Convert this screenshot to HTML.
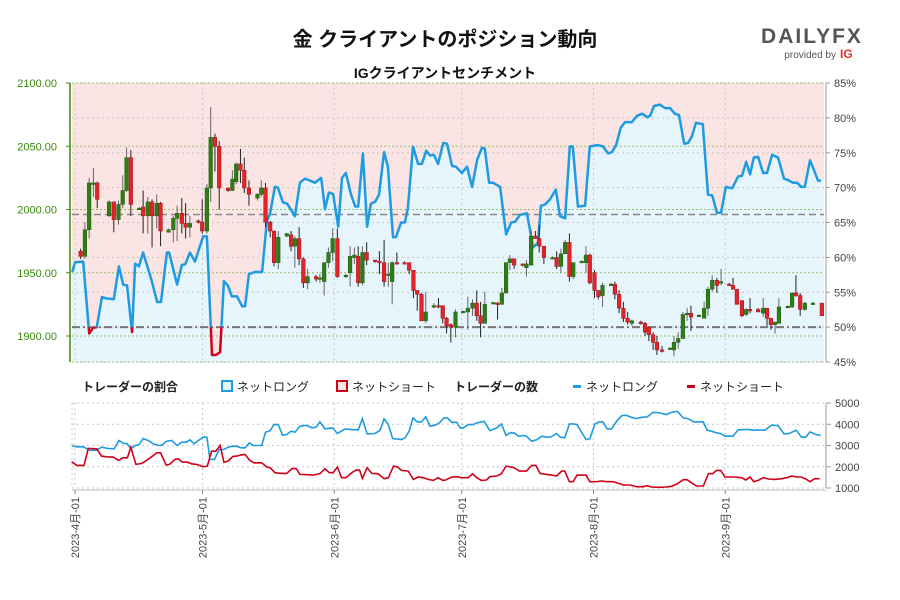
<!DOCTYPE html>
<html><head><meta charset="utf-8"><style>
body{margin:0;background:#fff;font-family:"Liberation Sans","Noto Sans CJK JP",sans-serif}
#wrap{position:relative;width:900px;height:600px;overflow:hidden}
</style></head><body><div id="wrap">
<svg id="svg" width="900" height="600" xmlns="http://www.w3.org/2000/svg" style="position:absolute;left:0;top:0" font-family="Liberation Sans, Noto Sans CJK JP, sans-serif">
<text x="445" y="46" text-anchor="middle" font-size="20" font-weight="bold" fill="#111">金 クライアントのポジション動向</text>
<text x="445" y="78" text-anchor="middle" font-size="14" font-weight="bold" fill="#111">IGクライアントセンチメント</text>
<g>
<text x="812" y="43" text-anchor="middle" font-size="21" font-weight="bold" letter-spacing="2" fill="#555">DAILYFX</text>
<text x="836" y="58" text-anchor="end" font-size="10" fill="#555">provided by</text>
<text x="840" y="58" font-size="12" font-weight="bold" fill="#e0312f">IG</text>
</g>
<g id="gtop"></g><g id="gbot"></g>
<g font-size="12" fill="#222">
<text x="82" y="391" font-weight="bold">トレーダーの割合</text>
<rect x="222" y="381" width="10" height="10" fill="#e6f4fb" stroke="#1e9be0" stroke-width="2"/>
<text x="237" y="391">ネットロング</text>
<rect x="337" y="381" width="10" height="10" fill="#fbe4e4" stroke="#d0021b" stroke-width="2"/>
<text x="352" y="391">ネットショート</text>
<text x="454" y="391" font-weight="bold">トレーダーの数</text>
<rect x="573" y="385" width="8" height="3" fill="#1e9be0"/>
<text x="586" y="391">ネットロング</text>
<rect x="687" y="385" width="8" height="3" fill="#d0021b"/>
<text x="700" y="391">ネットショート</text>
</g>
</svg></div>
<script>
const priceTicks=[2100,2050,2000,1950,1900];
const pctTicks=[85,80,75,70,65,60,55,50,45];
const countTicks=[5000,4000,3000,2000,1000];
const monthDays=[0,30,61,91,122,153];
const monthLabels=["2023-4月-01","2023-5月-01","2023-6月-01","2023-7月-01","2023-8月-01","2023-9月-01"];
const avgPrice=1996;
const cDay=[1.8,2.8,3.8,4.8,5.7,8.5,9.6,10.7,11.7,12.6,13.6,15.6,16.5,17.6,18.6,19.7,20.6,22.5,23.6,24.5,25.6,26.5,27.5,29.5,30.4,31.5,32.4,33.4,34.4,36.5,37.5,38.4,39.4,40.3,41.4,43.4,44.3,45.3,46.4,47.3,48.3,50.3,51.3,52.2,53.2,54.2,55.2,57.2,58.1,59.1,60.1,61.1,62.2,64.2,65.2,66.2,67.1,68.1,69.1,71.1,72.1,73.2,74.2,75.1,76.2,78,79.1,80.1,81,82,83,84.9,86,87,87.9,88.9,90,91.8,92.9,94,95,95.9,96.9,98.9,99.9,100.9,101.9,102.8,103.8,105.8,106.7,107.8,108.8,109.7,110.8,112.8,113.8,114.8,115.8,116.8,117.7,119.7,120.7,121.6,122.7,123.6,124.6,126.6,127.5,128.5,129.5,130.5,131.5,133.6,134.6,135.5,136.5,137.4,138.6,140.5,141.4,142.4,143.5,144.5,145.4,147.3,148.5,149.4,150.4,151.5,152.5,154.4,155.3,156.2,157.4,158.4,159.3,161.2,162.4,163.3,164.2,165.2,166.1,168.2,169.2,170.1,171.1,172.2,174.1,176.2];
const cOpen=[1967,1963,1984,2021,2021,1995,2006,1992,2004,2015,2041,2000,2002,1995,2006,1995,2005,1982,1984,1993,1997,1989,1986,1991,1990,1983,2017,2057,2050,2017,2015,2022,2036,2031,2017,2009,2012,2017,1990,1983,1958,1979,1980,1971,1977,1961,1942,1947,1945,1943,1958,1966,1977,1947,1950,1962,1963,1942,1966,1960,1959,1958,1948,1943,1958,1958,1958,1952,1936,1933,1912,1924,1924,1924,1914,1909,1907,1919,1919,1922,1926,1916,1910,1926,1926,1925,1934,1958,1961,1957,1954,1956,1979,1977,1971,1962,1962,1955,1965,1974,1947,1958,1958,1964,1950,1936,1932,1940,1941,1933,1922,1914,1910,1911,1910,1907,1901,1895,1889,1890,1889,1895,1898,1917,1918,1916,1914,1922,1937,1944,1943,1941,1940,1937,1928,1917,1921,1921,1918,1922,1914,1909,1910,1923,1923,1934,1932,1921,1926,1926];
const cHigh=[1969,1990,2025,2033,2022,2007,2006,2007,2027,2049,2047,2002,2015,2010,2008,2012,2006,1985,1995,2003,2009,2005,1995,1992,2008,2020,2081,2060,2054,2017,2031,2037,2048,2041,2023,2013,2023,2021,1991,1983,1983,1981,1983,1979,1986,1962,1953,1948,1949,1958,1970,1985,1985,1949,1971,1970,1971,1971,1974,1960,1967,1976,1958,1959,1966,1959,1958,1952,1936,1934,1935,1926,1930,1924,1915,1910,1921,1920,1931,1929,1936,1927,1935,1927,1927,1938,1958,1964,1961,1957,1960,1984,1983,1988,1971,1963,1967,1969,1976,1981,1958,1960,1971,1965,1952,1936,1942,1942,1943,1936,1927,1919,1913,1912,1911,1907,1903,1900,1892,1891,1900,1903,1919,1922,1924,1917,1927,1939,1948,1946,1953,1942,1946,1937,1928,1922,1930,1922,1930,1922,1914,1911,1930,1924,1934,1948,1934,1927,1927,1926];
const cLow=[1961,1961,1977,2010,2001,1994,1982,1988,2001,2014,1995,2000,1981,1981,1970,1985,1971,1982,1974,1975,1981,1977,1978,1989,1981,1981,2006,2030,2000,2014,2015,2020,2021,2013,2003,2007,2010,1986,1978,1955,1953,1978,1967,1954,1956,1938,1937,1943,1942,1932,1954,1959,1946,1946,1939,1957,1939,1940,1956,1958,1949,1939,1939,1925,1957,1957,1949,1930,1920,1912,1910,1922,1922,1910,1902,1895,1899,1918,1905,1916,1912,1899,1910,1925,1913,1925,1934,1952,1953,1955,1947,1956,1977,1966,1957,1961,1953,1950,1965,1943,1945,1958,1950,1941,1930,1929,1923,1940,1929,1918,1911,1909,1908,1909,1900,1896,1889,1885,1887,1889,1884,1890,1898,1912,1904,1915,1914,1916,1935,1934,1940,1940,1937,1925,1915,1916,1918,1919,1915,1908,1905,1902,1910,1922,1922,1931,1916,1920,1925,1916];
const cClose=[1963,1984,2021,2021,2008,2006,1992,2004,2015,2041,2004,2001,1995,2006,1995,2005,1983,1984,1993,1997,1989,1986,1989,1990,1983,2017,2057,2050,2017,2015,2024,2036,2031,2017,2012,2012,2017,1990,1983,1958,1978,1981,1971,1977,1961,1942,1947,1945,1946,1958,1966,1977,1947,1948,1963,1964,1942,1966,1960,1959,1958,1943,1949,1958,1957,1957.5,1952,1936,1933,1912,1919,1924,1923,1914,1908,1907,1919,1919.5,1922,1926,1916,1910,1925,1926.5,1925,1934,1958,1961,1956,1956,1957,1979,1977,1971,1962,1962,1955,1965,1974,1947,1958,1959,1964,1942,1936,1931,1940,1941,1933,1922,1914,1911,1912,1910,1903,1901,1895,1889,1888,1890.5,1895,1898,1917,1918,1915,1916.5,1922,1937,1944,1940,1943,1940,1937,1925,1916,1921,1920,1919,1922,1914,1909,1911,1923,1923.5,1934,1932,1921,1926,1926,1916];
const sDay=[-0.2,0.5,2.4,3.8,4.7,5.6,6.8,8,9.6,10.8,11.8,12.7,13.9,14.6,15.5,16.5,18.4,19.8,20.7,22.1,22.6,24.5,25.6,26.4,27.5,28.7,30.6,31.5,32.7,33.6,34.6,35.5,36.5,37.4,38.6,39.8,40.5,41.4,42.8,44.5,45.6,46.4,47.5,48.2,49.4,50.4,52.2,53.4,54.6,55.8,56.9,58.4,59.3,60.2,61.2,62.4,63.3,64.2,65.4,66.4,67.1,68.2,69.2,70.1,71.1,72,73.2,74.1,75.3,76,77.2,78.1,78.8,80,81.2,82.1,83.1,84,84.9,85.9,87.1,88,89.2,90.1,91.5,92.7,93.9,95.1,96.2,96.9,97.9,98.8,100.5,101.9,103.1,104,105.2,106.8,107.5,108.2,109.4,110.1,111.1,112.2,113.6,114.6,115.8,116.9,117.6,118.8,120.5,121.6,123.5,124.7,125.9,126.8,127.8,128.9,129.9,131.5,132.7,133.9,135.1,135.8,136.7,138.1,139.3,140.5,141.6,142.6,143.8,144.7,145.6,146.6,148.2,149.4,150.4,151.5,152.5,153.6,155.1,156.5,157.4,158.4,159.3,160.2,161.2,162.4,163.3,164.5,165.9,167.3,168.2,169.4,170.4,171.3,172.2,173.4,174.1,175.3,176];
const sPct=[57.9,59.3,59.4,49.1,49.9,50.0,54.3,54.1,54.0,58.7,56.1,56.0,49.3,59.1,58.7,60.7,56.9,53.6,53.6,60.7,60.7,56.1,58.9,59.0,60.7,59.4,63.0,63.0,46.0,46.0,46.4,56.6,55.9,54.4,54.4,53.0,53.0,57.6,57.9,57.9,65.1,66.4,70.1,70.0,67.9,67.7,65.9,70.7,71.3,71.0,70.7,71.4,66.9,69.3,69.1,64.4,71.4,72.1,69.0,67.3,67.3,74.9,64.4,67.7,68.0,69.0,75.1,73.0,62.9,62.9,65.0,65.0,67.1,75.9,73.4,73.4,75.3,74.6,74.7,73.4,76.4,76.3,73.1,73.0,72.1,73.0,70.1,74.0,75.7,75.6,70.7,70.7,70.1,63.3,65.0,65.1,66.1,66.3,64.0,61.4,62.1,67.4,67.6,68.3,69.7,65.9,65.6,75.9,75.9,67.3,67.4,75.9,76.1,75.9,74.9,75.1,76.1,78.6,79.4,79.4,80.3,80.6,80.1,80.3,81.7,81.9,81.4,81.4,80.6,80.4,76.3,76.4,77.3,79.3,79.1,69.0,68.9,66.4,66.4,70.1,69.9,71.6,71.7,73.7,71.9,74.3,74.4,72.1,72.1,74.7,74.3,71.3,71.1,70.7,70.7,70.1,70.1,73.9,72.9,71.0,71.0];
const lDay=[-0.3,0.9,2.4,4,5.6,6.7,8.3,9.7,10.8,11.8,12.8,13.6,14.6,15.5,16.5,17.7,18.9,20.1,20.9,22,23.2,24.5,25.6,26.7,27.5,28.5,29.5,30.7,31.5,32.2,33.3,34.4,35.5,36.5,37.6,38.5,39.5,40.5,41.5,42.4,44.4,45.3,46.4,47.3,48.3,49.3,50.3,51.3,52.2,53.3,54.2,55.1,56.2,57.2,58.1,59.3,61.1,62.2,64,65.6,67.1,68.1,69.2,71,72.2,73.2,74.2,75.2,77.3,78.1,79.1,80,81,82,83,84,85.2,86.2,87.3,88.1,89.1,90.3,91.1,91.8,93,94.2,95,96.7,98.1,99.7,100.8,101.9,102.8,103.8,104.8,105.9,106.7,107.9,109.1,110.3,111.4,112.5,113.8,114.7,115.7,116.8,117.7,118.6,120.7,121.6,122.8,123.8,124.7,125.7,126.7,127.9,129.1,130.1,131.4,132.6,133.8,135.1,136.5,138.2,139.6,140.8,142.2,143.6,144.7,146.1,147.1,148.3,149.2,150.2,151.4,152.4,153.4,155.3,156.5,157.7,159.3,160,161.2,162.8,164.3,165.9,167.3,168.5,170.2,171.4,172.4,173.4,174.8,175.9];
const lVal=[3000,2938,2938,2766,2781,2922,2859,2844,3234,3109,3078,2844,3000,3031,3328,3234,3078,3000,3016,3203,3234,3000,3156,3156,3266,3078,3234,3406,3391,2344,2344,2813,2813,2922,2969,2969,2891,2891,3125,3000,3000,3625,3703,3984,3984,3484,3516,3672,3625,3891,3938,3938,3828,3859,4109,3781,3828,3563,3781,3750,3734,4266,3547,3563,3703,4250,3984,3328,3281,3359,3672,4297,4109,4109,4344,3906,3953,4063,4297,4297,4094,4094,3828,3828,3984,3984,4063,4141,3703,3828,4016,3469,3594,3594,3438,3469,3438,3203,3266,3438,3391,3406,3563,3391,3359,4016,4016,3984,3281,3313,4016,4109,4109,3781,3781,4141,4406,4422,4328,4266,4328,4344,4563,4531,4453,4563,4609,4297,4266,4109,4109,4109,3719,3672,3594,3563,3438,3438,3734,3750,3750,3719,3734,3719,3953,3938,3547,3563,3719,3391,3391,3641,3516,3469];
const shDay=[-0.3,0.9,2.6,3.6,5.6,6.7,7.9,9.5,10.7,11.7,12.8,13.6,14.8,16.2,17.3,18.5,19.7,20.6,21.9,22.7,24,24.8,25.7,26.9,27.9,29.1,30.7,31.6,32.6,33.6,34.6,35.5,36.5,37.6,38.5,39.7,40.5,41.6,42.6,44.4,45.6,46.4,47.5,49.1,50.3,51.5,52.5,53.4,55,56.5,58.1,59.3,60.3,61.2,62.2,63.2,64.2,65.6,66.6,67.4,68.1,69.2,70.3,71.8,73.2,74.2,75.4,76.3,77.3,78.9,80.1,81.2,82.4,83.6,84.8,85.9,87,87.7,89.1,90.3,91.4,93,94,95,96.1,97.3,98.1,99.7,100.8,101.9,103.8,105,106.7,107.9,108.9,109.9,111.4,112.6,113.8,115,115.7,116.8,117.7,118.6,120.7,121.6,123.2,124.4,125.5,127.1,128.7,129.4,131,132.6,134.1,135.1,136.1,137.7,139.6,140.8,142,143.6,144.5,145.5,146.7,148.3,149.5,150.5,151.4,152.4,153.4,154.5,155.7,157.3,158.3,159.3,160.2,161.2,162.4,163.6,165.1,166.7,167.9,169.1,170.2,171.4,172.6,173.4,174.5,175.7];
const shVal=[2234,2063,2063,2859,2844,2500,2469,2453,2297,2422,2422,2922,2109,2156,2297,2469,2656,2656,2078,2109,2344,2375,2219,2219,2141,2109,2000,2031,2734,2734,3000,2219,2266,2484,2500,2563,2578,2297,2188,2188,1984,1953,1719,1688,1688,1906,1922,1641,1625,1609,1672,1906,1719,1719,1984,1484,1484,1719,1844,1844,1453,1953,1688,1672,1438,1484,2031,2000,1828,1797,1406,1516,1484,1406,1359,1484,1359,1375,1516,1531,1484,1484,1672,1484,1359,1375,1531,1563,1672,2031,1953,1797,1797,2063,2063,1688,1641,1609,1563,1797,1797,1297,1297,1609,1609,1297,1297,1328,1297,1297,1203,1141,1141,1063,1063,1109,1047,1031,1047,1078,1172,1391,1391,1250,1094,1094,1672,1672,1828,1828,1516,1516,1516,1484,1375,1516,1297,1359,1484,1422,1406,1438,1484,1563,1516,1516,1406,1297,1438,1438];

const NS="http://www.w3.org/2000/svg";
function mk(p,t,a){const e=document.createElementNS(NS,t);for(const k in a)e.setAttribute(k,a[k]);p.appendChild(e);return e;}
const X0=73,PPD=4.25,PL=72,PR=824,PT=83,PB=362;
const xd=d=>X0+d*PPD;
const yp=p=>PT+(2100-p)*1.265;
const ys=v=>PT+(85-v)*6.975;
const BT=403,BB=488;
const yc=v=>BT+(5000-v)*(BB-BT)/4000;
const gTop=document.getElementById('gtop'),gBot=document.getElementById('gbot');

let bg=mk(gTop,'rect',{x:PL,y:PT,width:PR-PL,height:PB-PT,fill:'#fbe4e4'});


let pts=sDay.map((d,i)=>xd(d).toFixed(1)+','+ys(sPct[i]).toFixed(1));
let fill=mk(gTop,'polygon',{points:xd(sDay[0])+','+PB+' '+pts.join(' ')+' '+PR+','+ys(sPct[sPct.length-1])+' '+PR+','+PB,fill:'#e6f4fb'});


pctTicks.forEach(p=>{mk(gTop,'line',{x1:PL,x2:PR,y1:ys(p),y2:ys(p),stroke:'#c8c8c8','stroke-dasharray':'2,3'});});
priceTicks.forEach(p=>{mk(gTop,'line',{x1:PL,x2:PR,y1:yp(p),y2:yp(p),stroke:'#9bbf6a','stroke-dasharray':'2,2'});});
mk(gTop,'line',{x1:PL,x2:PR,y1:PB,y2:PB,stroke:'#9bbf6a','stroke-dasharray':'2,2'});
monthDays.forEach(d=>{mk(gTop,'line',{x1:xd(d)+2,x2:xd(d)+2,y1:PT,y2:PB,stroke:'#c8c8c8','stroke-dasharray':'2,3'});
 mk(gBot,'line',{x1:xd(d)+2,x2:xd(d)+2,y1:BT,y2:BB,stroke:'#c8c8c8','stroke-dasharray':'2,3'});});
let avg=mk(gTop,'line',{x1:PL,x2:PR,y1:yp(avgPrice),y2:yp(avgPrice),stroke:'#888','stroke-width':1.5,'stroke-dasharray':'7,4'});


let fifty=mk(gTop,'line',{x1:PL,x2:PR,y1:ys(50),y2:ys(50),stroke:'#777','stroke-width':2,'stroke-dasharray':'8,3,2,3'});


const defs=mk(gTop,'defs',{});
const c1=mk(defs,'clipPath',{id:'cAbove'});mk(c1,'rect',{x:0,y:0,width:900,height:ys(50)});
const c2=mk(defs,'clipPath',{id:'cBelow'});mk(c2,'rect',{x:0,y:ys(50),width:900,height:200});
let lb=mk(gTop,'polyline',{points:pts.join(' '),fill:'none',stroke:'#1e9be0','stroke-width':2.5,'clip-path':'url(#cAbove)','stroke-linejoin':'round'});


let lr=mk(gTop,'polyline',{points:pts.join(' '),fill:'none',stroke:'#d0021b','stroke-width':2.5,'clip-path':'url(#cBelow)','stroke-linejoin':'round'});


cDay.forEach((d,i)=>{const g=mk(gTop,'g',{});
 
 
 const x=xd(d),o=cOpen[i],c=cClose[i],up=c>=o;
 mk(g,'line',{x1:x,x2:x,y1:yp(cHigh[i]),y2:yp(cLow[i]),stroke:up?'#666':'#222','stroke-width':1});
 const y1=yp(Math.max(o,c)),h=Math.max(1.5,Math.abs(yp(o)-yp(c)));
 mk(g,'rect',{x:x-1.8,y:y1,width:3.6,height:h,fill:up?'#2f7d16':'#e2242b',stroke:up?'#1f5a0c':'#a01018','stroke-width':0.5});});
mk(gTop,'line',{x1:70,x2:70,y1:PT,y2:PB,stroke:'#3a8a0a','stroke-width':1.5});
priceTicks.forEach(p=>{mk(gTop,'line',{x1:66,x2:70,y1:yp(p),y2:yp(p),stroke:'#3a8a0a'});
 const t=mk(gTop,'text',{x:57,y:yp(p)+4,'text-anchor':'end','font-size':11,fill:'#3a8a0a'});t.textContent=p.toFixed(2);
 
 });
mk(gTop,'line',{x1:826,x2:826,y1:PT,y2:PB,stroke:'#bbb','stroke-width':1.5});
pctTicks.forEach(p=>{mk(gTop,'line',{x1:826,x2:830,y1:ys(p),y2:ys(p),stroke:'#999'});
 const t=mk(gTop,'text',{x:834,y:ys(p)+4,'font-size':11,fill:'#444'});t.textContent=p+'%';
 
 });
countTicks.forEach(v=>{mk(gBot,'line',{x1:PL,x2:PR,y1:yc(v),y2:yc(v),stroke:'#c8c8c8','stroke-dasharray':'2,3'});
 mk(gBot,'line',{x1:826,x2:831,y1:yc(v),y2:yc(v),stroke:'#999'});
 const t=mk(gBot,'text',{x:835,y:yc(v)+4,'font-size':11,fill:'#444'});t.textContent=v;
 
 });
mk(gBot,'line',{x1:826,x2:826,y1:BT,y2:BB,stroke:'#bbb','stroke-width':1.5});
mk(gBot,'line',{x1:PL,x2:PL,y1:BT,y2:BB,stroke:'#ccc','stroke-dasharray':'2,3'});
mk(gBot,'line',{x1:PL,x2:826,y1:BB+2,y2:BB+2,stroke:'#bbb','stroke-width':1});
let bl=mk(gBot,'polyline',{points:lDay.map((d,i)=>xd(d).toFixed(1)+','+yc(lVal[i]).toFixed(1)).join(' '),fill:'none',stroke:'#1e9be0','stroke-width':1.6});


let br=mk(gBot,'polyline',{points:shDay.map((d,i)=>xd(d).toFixed(1)+','+yc(shVal[i]).toFixed(1)).join(' '),fill:'none',stroke:'#d0021b','stroke-width':1.6});


monthDays.forEach((d,i)=>{const x=xd(d)+2;
 mk(gBot,'line',{x1:x,x2:x,y1:BB+2,y2:BB+6,stroke:'#888'});
 const t=mk(gBot,'text',{x:0,y:0,'font-size':11,fill:'#444','text-anchor':'end',transform:'translate('+(x+4)+','+(BB+9)+') rotate(-90)'});
 t.textContent=monthLabels[i];
 
 });
</script></body></html>
